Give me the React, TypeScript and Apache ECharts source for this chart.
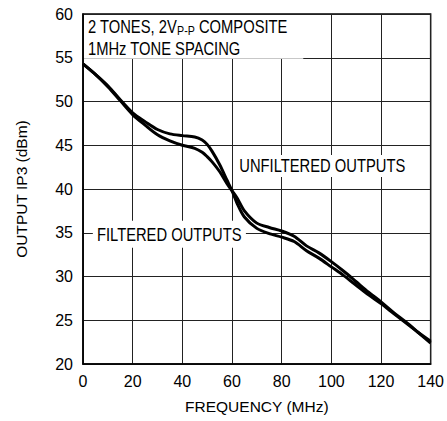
import React, { useEffect, useRef } from "react";
import * as echarts from "echarts";

const freq = [0, 5, 10, 15, 20, 25, 30, 35, 40, 45, 48, 50, 52, 55, 58, 60, 62, 65, 70, 75, 80, 85, 90, 95, 100, 105, 110, 115, 120, 125, 130, 135, 140];
const unfiltered = [54.3, 53.1, 51.8, 50.2, 48.7, 47.7, 46.8, 46.3, 46.1, 45.95, 45.6, 45.1, 44.3, 42.8, 41.0, 39.8, 38.4, 36.8, 35.5, 34.9, 34.5, 34.0, 32.95, 32.1, 31.1, 30.1, 29.0, 27.9, 26.9, 25.8, 24.7, 23.6, 22.6];
const filtered = [54.3, 53.1, 51.7, 50.1, 48.5, 47.3, 46.2, 45.5, 45.0, 44.65, 44.2, 43.7, 43.1, 42.0, 40.6, 39.8, 39.0, 37.5, 36.1, 35.6, 35.2, 34.6, 33.5, 32.7, 31.7, 30.6, 29.4, 28.2, 27.1, 25.9, 24.8, 23.6, 22.4];

const xTicks = [0, 20, 40, 60, 80, 100, 120, 140];
const yTicks = [20, 25, 30, 35, 40, 45, 50, 55, 60];

const FONT = "'Liberation Sans', Arial, sans-serif";
const NARROW = 0.82;

export default function App() {
  const ref = useRef<HTMLDivElement>(null);
  useEffect(() => {
    if (!ref.current) return;
    const chart = echarts.init(ref.current, null, { renderer: "svg" });
    const mk = (vals: number[]) => freq.map((f, i) => [f, vals[i]]);
    chart.setOption({
      animation: false,
      backgroundColor: "#fff",
      grid: {
        left: 83,
        right: 11,
        top: 14,
        bottom: 57,
        show: true,
        borderColor: "#000",
        borderWidth: 1.5,
        backgroundColor: "#fff",
      },
      xAxis: {
        type: "value",
        min: xTicks[0],
        max: xTicks[xTicks.length - 1],
        interval: 20,
        name: "FREQUENCY (MHz)",
        nameLocation: "middle",
        nameGap: 34,
        nameTextStyle: { fontFamily: FONT, fontSize: 15.5, color: "#000" },
        axisLine: { show: true, lineStyle: { color: "#000", width: 1.5 } },
        axisTick: { show: false },
        axisLabel: { fontFamily: FONT, fontSize: 16, color: "#000", margin: 9 },
        splitLine: { show: true, lineStyle: { color: "#222", width: 1 } },
      },
      yAxis: {
        type: "value",
        min: yTicks[0],
        max: yTicks[yTicks.length - 1],
        interval: 5,
        name: "OUTPUT IP3 (dBm)",
        nameLocation: "middle",
        nameGap: 54,
        nameTextStyle: { fontFamily: FONT, fontSize: 15.5, color: "#000" },
        axisLine: { show: true, lineStyle: { color: "#000", width: 1.5 } },
        axisTick: { show: false },
        axisLabel: { fontFamily: FONT, fontSize: 16, color: "#000", margin: 10 },
        splitLine: { show: true, lineStyle: { color: "#222", width: 1 } },
      },
      series: [
        {
          name: "UNFILTERED OUTPUTS",
          type: "line",
          data: mk(unfiltered),
          smooth: 0.3,
          showSymbol: false,
          symbol: "none",
          lineStyle: { color: "#000", width: 3 },
          z: 5,
        },
        {
          name: "FILTERED OUTPUTS",
          type: "line",
          data: mk(filtered),
          smooth: 0.3,
          showSymbol: false,
          symbol: "none",
          lineStyle: { color: "#000", width: 3 },
          z: 5,
        },
      ],
    });

    const px = (p: number[]) => chart.convertToPixel({ gridIndex: 0 }, p) as number[];
    const boxTL = px([0, 60]);
    const boxBR = px([88.7, 54.9]);
    const noteA = px([2.0, 57.3]);
    const unfPos = px([61.6, 42.64]);
    const filPos = px([3.96, 34.83]);

    chart.setOption({
      graphic: [
        {
          type: "rect",
          z: 3,
          shape: { x: boxTL[0] + 1, y: boxTL[1] + 1, width: boxBR[0] - boxTL[0] - 1, height: boxBR[1] - boxTL[1] - 1 },
          style: { fill: "#fff" },
        },
        {
          type: "text",
          z: 4,
          x: noteA[0],
          y: noteA[1],
          scaleX: NARROW,
          style: {
            text: "{a|2 TONES, 2V}{s|P-P}{a| COMPOSITE}\n{a|1MHz TONE SPACING}",
            align: "left",
            verticalAlign: "middle",
            fill: "#000",
            rich: {
              a: { fontFamily: FONT, fontSize: 18, lineHeight: 21.7, fill: "#000" },
              s: { fontFamily: FONT, fontSize: 13, lineHeight: 21.7, padding: [8, 0, 0, 0], fill: "#000" },
            },
          },
        },
        {
          type: "text",
          z: 4,
          x: unfPos[0],
          y: unfPos[1],
          scaleX: NARROW,
          style: {
            text: "UNFILTERED OUTPUTS",
            fontFamily: FONT,
            fontSize: 18,
            lineHeight: 20,
            fill: "#000",
            align: "left",
            verticalAlign: "middle",
            backgroundColor: "#fff",
            padding: [1, 4, 1, 4],
          },
        },
        {
          type: "text",
          z: 4,
          x: filPos[0],
          y: filPos[1],
          scaleX: NARROW,
          style: {
            text: "FILTERED OUTPUTS",
            fontFamily: FONT,
            fontSize: 18,
            lineHeight: 20,
            fill: "#000",
            align: "left",
            verticalAlign: "middle",
            backgroundColor: "#fff",
            padding: [4, 5, 3, 5],
          },
        },
      ],
    });
    return () => chart.dispose();
  }, []);
  return (
    <div
      ref={ref}
      style={{ position: "fixed", left: 0, top: 0, width: 447, height: 421, background: "#fff" }}
    />
  );
}
